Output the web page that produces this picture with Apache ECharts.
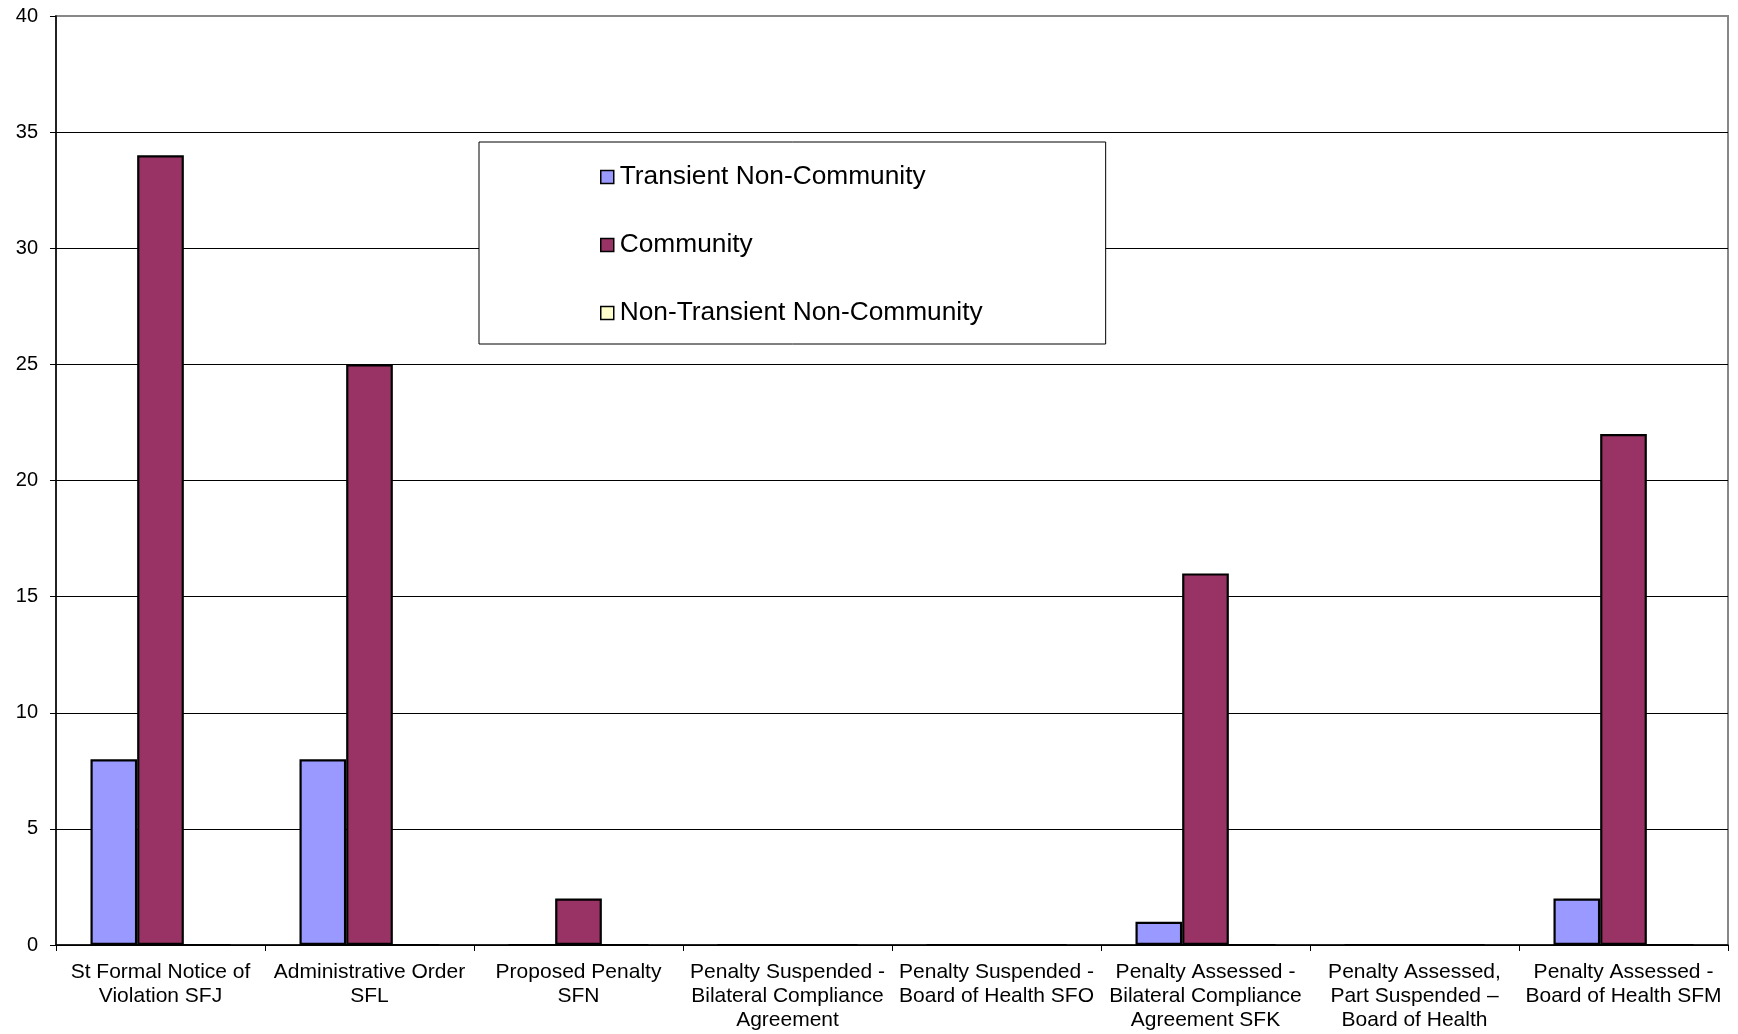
<!DOCTYPE html>
<html>
<head>
<meta charset="utf-8">
<script src="https://cdn.jsdelivr.net/npm/echarts@6/dist/echarts.min.js"></script>
<style>
html,body{margin:0;padding:0;background:#fff;}
#c{width:1738px;height:1034px;}
</style>
</head>
<body>
<div id="c"></div>
<script>
var categories = [
  "St Formal Notice of\nViolation SFJ",
  "Administrative Order\nSFL",
  "Proposed Penalty\nSFN",
  "Penalty Suspended -\nBilateral Compliance\nAgreement",
  "Penalty Suspended -\nBoard of Health SFO",
  "Penalty Assessed -\nBilateral Compliance\nAgreement SFK",
  "Penalty Assessed,\nPart Suspended \u2013\nBoard of Health",
  "Penalty Assessed -\nBoard of Health SFM"
];
var seriesNames = ["Transient Non-Community", "Community", "Non-Transient Non-Community"];
var transientNC = [8, 8, 0, 0, 0, 1, 0, 2];
var community = [34, 25, 2, 0, 0, 16, 0, 22];
var nonTransientNC = [0, 0, 0, 0, 0, 0, 0, 0];
var yTicks = { min: 0, max: 40, interval: 5 };

var FONT = "Liberation Sans, Arial, sans-serif";
var colors = ["#9999FF", "#993366", "#FFFFCC"];
var values = [transientNC, community, nonTransientNC];

var chart = echarts.init(document.getElementById('c'), null, { renderer: 'canvas' });
var splitColors = [];
for (var v = yTicks.min; v <= yTicks.max; v += yTicks.interval) {
  splitColors.push(v === yTicks.max ? '#888888' : '#000000');
}

chart.setOption({
  animation: false,
  backgroundColor: '#ffffff',
  textStyle: { fontFamily: FONT },
  grid: {
    left: 56, right: 10, top: 16, bottom: 89,
    show: true, borderColor: '#888888', borderWidth: 2, backgroundColor: 'transparent'
  },
  legend: {
    orient: 'vertical',
    left: 479, top: 142,
    padding: [22, 123, 18, 121],
    backgroundColor: '#ffffff',
    borderColor: '#000000',
    borderWidth: 1,
    itemGap: 42,
    itemWidth: 13, itemHeight: 13,
    icon: 'rect',
    textStyle: { fontSize: 26.3, lineHeight: 26, color: '#000', fontFamily: FONT, padding: [0, 0, 0, 1] },
    itemStyle: { borderColor: '#000', borderWidth: 1.5 },
    data: seriesNames
  },
  xAxis: {
    type: 'category',
    data: categories,
    boundaryGap: true,
    axisLine: { show: true, lineStyle: { color: '#000', width: 1.5 } },
    axisTick: { show: true, length: 6, lineStyle: { color: '#000', width: 1 } },
    axisLabel: { interval: 0, fontSize: 21, lineHeight: 24, color: '#000', margin: 15, fontFamily: FONT },
    splitLine: { show: false }
  },
  yAxis: {
    type: 'value',
    min: yTicks.min, max: yTicks.max, interval: yTicks.interval,
    axisLine: { show: true, lineStyle: { color: '#000', width: 1.5 } },
    axisTick: { show: true, length: 6, lineStyle: { color: '#000', width: 1 } },
    axisLabel: { fontSize: 20, color: '#000', margin: 18, fontFamily: FONT },
    splitLine: { show: true, lineStyle: { color: splitColors, width: 1 } }
  },
  series: seriesNames.map(function (name, i) {
    return {
      name: name,
      type: 'bar',
      data: values[i],
      barGap: '0%',
      barCategoryGap: '33%',
      itemStyle: { color: colors[i], borderColor: '#000', borderWidth: 2.2 }
    };
  })
});
</script>
</body>
</html>
